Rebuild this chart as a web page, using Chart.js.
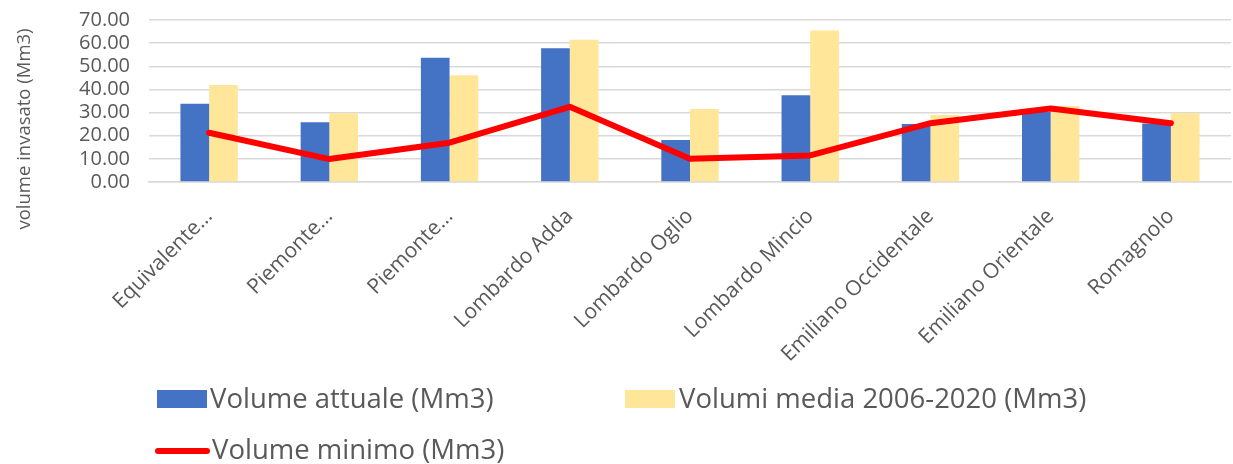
<!DOCTYPE html>
<html>
<head>
<meta charset="utf-8">
<script src="https://cdn.jsdelivr.net/npm/chart.js@4/dist/chart.umd.min.js"></script>
<style>
  html, body { margin: 0; padding: 0; background: #ffffff; }
  #wrap { width: 1233px; height: 464px; position: relative; }
</style>
</head>
<body>
<div id="wrap"><canvas id="c" width="1233" height="464"></canvas></div>
<script>
// Distretti / bacini
const categories = [
  'Equivalente…', 'Piemonte…', 'Piemonte…', 'Lombardo Adda', 'Lombardo Oglio',
  'Lombardo Mincio', 'Emiliano Occidentale', 'Emiliano Orientale', 'Romagnolo'
];
// Volume attualmente invasato (Mm3)
const volumeAttuale = [33.8, 25.8, 53.7, 57.8, 18.1, 37.5, 25.1, 30.4, 25.3];
// Media 2006-2020 (Mm3)
const volumiMedia = [41.9, 29.7, 46.1, 61.5, 31.5, 65.5, 29.0, 32.8, 29.8];
// Volume minimo (Mm3)
const volumeMinimo = [21.3, 9.9, 17.0, 32.5, 10.0, 11.5, 25.4, 31.8, 25.4];

const seriesNames = ['Volume attuale (Mm3)', 'Volumi media 2006-2020 (Mm3)', 'Volume minimo (Mm3)'];
const axisTitle = 'volume invasato (Mm3)';

const BLUE = '#4472C4', YELLOW = '#FFE699', RED = '#FF0000';
const TEXT = '#595959', GRID = '#D9D9D9';
const FONT = '"Open Sans", "Noto Sans", sans-serif';

// Rotated y-axis title and the legend below the chart
const decorations = {
  id: 'decorations',
  afterDraw(chart) {
    const ctx = chart.ctx;
    ctx.save();
    ctx.fillStyle = TEXT;
    ctx.font = '18.5px ' + FONT;
    ctx.textAlign = 'center';
    ctx.textBaseline = 'middle';
    ctx.translate(25, 129);
    ctx.rotate(-Math.PI / 2);
    ctx.fillText(axisTitle, 0, 0);
    ctx.restore();

    ctx.save();
    ctx.font = '27.5px ' + FONT;
    ctx.textBaseline = 'middle';
    ctx.textAlign = 'left';
    ctx.fillStyle = BLUE;
    ctx.fillRect(157, 390, 50, 18);
    ctx.fillStyle = TEXT;
    ctx.fillText(seriesNames[0], 210, 400);
    ctx.fillStyle = YELLOW;
    ctx.fillRect(625, 390, 50, 18);
    ctx.fillStyle = TEXT;
    ctx.fillText(seriesNames[1], 679, 400);
    ctx.strokeStyle = RED;
    ctx.lineWidth = 6;
    ctx.lineCap = 'round';
    ctx.beginPath();
    ctx.moveTo(158, 451);
    ctx.lineTo(207, 451);
    ctx.stroke();
    ctx.fillStyle = TEXT;
    ctx.fillText(seriesNames[2], 212, 451);
    ctx.restore();
  }
};

new Chart(document.getElementById('c'), {
  type: 'bar',
  data: {
    labels: categories,
    datasets: [
      {
        type: 'line',
        label: seriesNames[2],
        data: volumeMinimo,
        borderColor: RED,
        backgroundColor: RED,
        borderWidth: 6,
        pointRadius: 0,
        borderJoinStyle: 'round',
        borderCapStyle: 'round',
        tension: 0,
        order: 0
      },
      {
        label: seriesNames[0],
        data: volumeAttuale,
        backgroundColor: BLUE,
        borderWidth: 0,
        barPercentage: 1,
        categoryPercentage: 0.477,
        order: 1
      },
      {
        label: seriesNames[1],
        data: volumiMedia,
        backgroundColor: YELLOW,
        borderWidth: 0,
        barPercentage: 1,
        categoryPercentage: 0.477,
        order: 1
      }
    ]
  },
  options: {
    responsive: false,
    animation: false,
    layout: { padding: { top: 20, right: 2, left: 0, bottom: 0 } },
    plugins: {
      legend: { display: false },
      tooltip: { enabled: false }
    },
    scales: {
      x: {
        grid: { display: false, drawTicks: false },
        border: { display: true, color: GRID, width: 1.5 },
        ticks: {
          color: TEXT,
          font: { family: FONT, size: 21 },
          minRotation: 45,
          maxRotation: 45,
          padding: 22,
          autoSkip: false
        },
        afterFit(scale) { scale.height = 282; }
      },
      y: {
        min: 0,
        max: 70,
        grid: { color: GRID, lineWidth: 1.5, drawTicks: false },
        border: { display: false },
        ticks: {
          stepSize: 10,
          autoSkip: false,
          color: TEXT,
          font: { family: FONT, size: 20 },
          padding: 19,
          callback: v => Number(v).toFixed(2)
        },
        afterFit(scale) {
          scale.width = 149;
          scale.paddingTop = 0;
          scale.paddingBottom = 0;
        }
      }
    }
  },
  plugins: [decorations]
});
</script>
</body>
</html>
